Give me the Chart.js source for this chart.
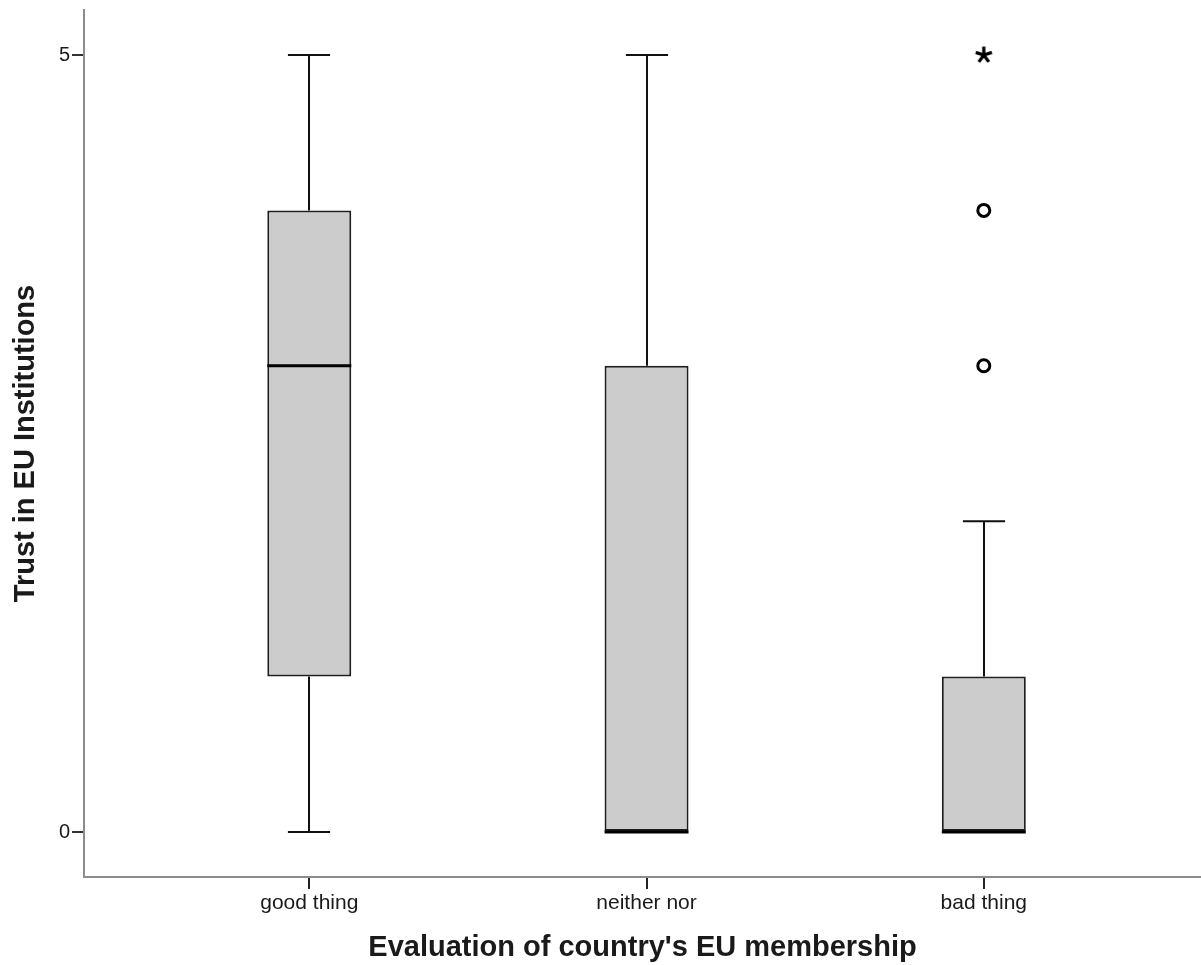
<!DOCTYPE html>
<html>
<head>
<meta charset="utf-8">
<script src="https://cdn.jsdelivr.net/npm/chart.js@4/dist/chart.umd.min.js"></script>
<style>
  html, body { margin: 0; padding: 0; background: #ffffff; overflow: hidden; }
  canvas { display: block; }
</style>
</head>
<body>
<canvas id="c" width="1201" height="965"></canvas>
<script>
const categories = ["good thing", "neither nor", "bad thing"];
const positions = [1, 2, 3];
const q1 = [1, 0, 0];
const medians = [3, 0, 0];
const q3 = [4, 3, 1];
const whiskerLow = [0, 0, 0];
const whiskerHigh = [5, 5, 2];
const outlierX = [3, 3];
const outlierY = [3, 4];
const extremeX = [3];
const extremeY = [5];
const yTicks = [0, 5];

const boxData = positions.map((p, i) => ({ x: p, y: [q1[i], q3[i]] }));
const outlierData = outlierX.map((x, i) => ({ x: x, y: outlierY[i] }));
const extremeData = extremeX.map((x, i) => ({ x: x, y: extremeY[i] }));

// five-armed asterisk marker (SPSS extreme-value symbol)
const asterisk = document.createElement('canvas');
asterisk.width = 22; asterisk.height = 22;
(function () {
  const g = asterisk.getContext('2d');
  g.strokeStyle = '#000';
  g.lineWidth = 3.2;
  g.lineCap = 'butt';
  const cx = 11, cy = 11, r = 8.5;
  g.beginPath();
  for (let k = 0; k < 5; k++) {
    const a = -Math.PI / 2 + k * 2 * Math.PI / 5;
    g.moveTo(cx, cy);
    g.lineTo(cx + r * Math.cos(a), cy + r * Math.sin(a));
  }
  g.stroke();
})();

const whiskerPlugin = {
  id: 'whiskers',
  beforeDatasetsDraw(chart) {
    const ctx = chart.ctx, xs = chart.scales.x, ys = chart.scales.y;
    const capHalf = (xs.getPixelForValue(1.0625) - xs.getPixelForValue(1)) ;
    ctx.save();
    ctx.strokeStyle = '#111';
    ctx.lineWidth = 2;
    positions.forEach((p, i) => {
      const cx = Math.round(xs.getPixelForValue(p));
      const yHi = ys.getPixelForValue(whiskerHigh[i]);
      const yLo = ys.getPixelForValue(whiskerLow[i]);
      const yQ3 = ys.getPixelForValue(q3[i]);
      const yQ1 = ys.getPixelForValue(q1[i]);
      ctx.beginPath();
      ctx.moveTo(cx, yQ3); ctx.lineTo(cx, yHi);
      ctx.moveTo(cx - capHalf, yHi); ctx.lineTo(cx + capHalf, yHi);
      if (whiskerLow[i] < q1[i]) {
        ctx.moveTo(cx, yQ1); ctx.lineTo(cx, yLo);
        ctx.moveTo(cx - capHalf, yLo); ctx.lineTo(cx + capHalf, yLo);
      }
      ctx.stroke();
    });
    ctx.restore();
  },
  afterDatasetsDraw(chart) {
    const ctx = chart.ctx, xs = chart.scales.x, ys = chart.scales.y;
    const half = (xs.getPixelForValue(1.1245) - xs.getPixelForValue(1));
    ctx.save();
    ctx.strokeStyle = '#000';
    ctx.lineWidth = 3;
    positions.forEach((p, i) => {
      const cx = xs.getPixelForValue(p);
      const y = ys.getPixelForValue(medians[i]);
      ctx.beginPath();
      ctx.moveTo(cx - half, y); ctx.lineTo(cx + half, y);
      ctx.stroke();
    });
    ctx.restore();
  }
};

const txt = '#1a1a1a';
new Chart(document.getElementById('c'), {
  type: 'bar',
  data: {
    datasets: [
      {
        type: 'bar',
        data: boxData,
        backgroundColor: '#cccccc',
        borderColor: '#1e1e1e',
        borderWidth: 2,
        borderSkipped: false,
        barPercentage: 0.249,
        categoryPercentage: 1.0,
        order: 2
      },
      {
        type: 'line',
        data: outlierData,
        showLine: false,
        pointStyle: 'circle',
        pointRadius: 6,
        pointBorderWidth: 3,
        pointBorderColor: '#000',
        pointBackgroundColor: '#fff',
        order: 1
      },
      {
        type: 'line',
        data: extremeData,
        showLine: false,
        pointStyle: asterisk,
        pointRadius: 9,
        order: 1
      }
    ]
  },
  options: {
    responsive: false,
    animation: false,
    events: [],
    layout: { autoPadding: false, padding: { top: 10, right: 0, left: 0, bottom: 0 } },
    plugins: { legend: { display: false }, tooltip: { enabled: false } },
    scales: {
      x: {
        type: 'linear',
        offset: false,
        min: 0.332,
        max: 3.644,
        afterBuildTicks(scale) { scale.ticks = positions.map(v => ({ value: v })); },
        afterFit(scale) { scale.height = 88; scale.paddingLeft = 0; scale.paddingRight = 0; },
        ticks: {
          color: txt,
          font: { family: 'Liberation Sans, Arial, sans-serif', size: 21 },
          padding: 2,
          maxRotation: 0,
          autoSkip: false,
          callback: (v) => categories[positions.indexOf(v)]
        },
        grid: { offset: false, drawOnChartArea: false, drawTicks: true, tickLength: 12, color: '#222', lineWidth: 2 },
        border: { display: true, color: '#8c8c8c', width: 2 },
        title: {
          display: true,
          text: "Evaluation of country's EU membership",
          color: txt,
          font: { family: 'Liberation Sans, Arial, sans-serif', size: 29, weight: 'bold' },
          padding: { top: 0, bottom: 0 }
        }
      },
      y: {
        type: 'linear',
        min: -0.2896,
        max: 5.2896,
        afterBuildTicks(scale) { scale.ticks = yTicks.map(v => ({ value: v })); },
        afterFit(scale) { scale.width = 84; scale.paddingTop = 0; scale.paddingBottom = 0; },
        ticks: {
          color: txt,
          font: { family: 'Liberation Sans, Arial, sans-serif', size: 20 },
          padding: 2,
          callback: (v) => String(v)
        },
        grid: { drawOnChartArea: false, drawTicks: true, tickLength: 12, color: '#333', lineWidth: 2 },
        border: { display: true, color: '#8c8c8c', width: 2 },
        title: {
          display: true,
          text: 'Trust in EU Institutions',
          color: txt,
          font: { family: 'Liberation Sans, Arial, sans-serif', size: 29, weight: 'bold' },
          padding: { top: 9, bottom: 0 }
        }
      }
    }
  },
  plugins: [whiskerPlugin]
});
</script>
</body>
</html>
